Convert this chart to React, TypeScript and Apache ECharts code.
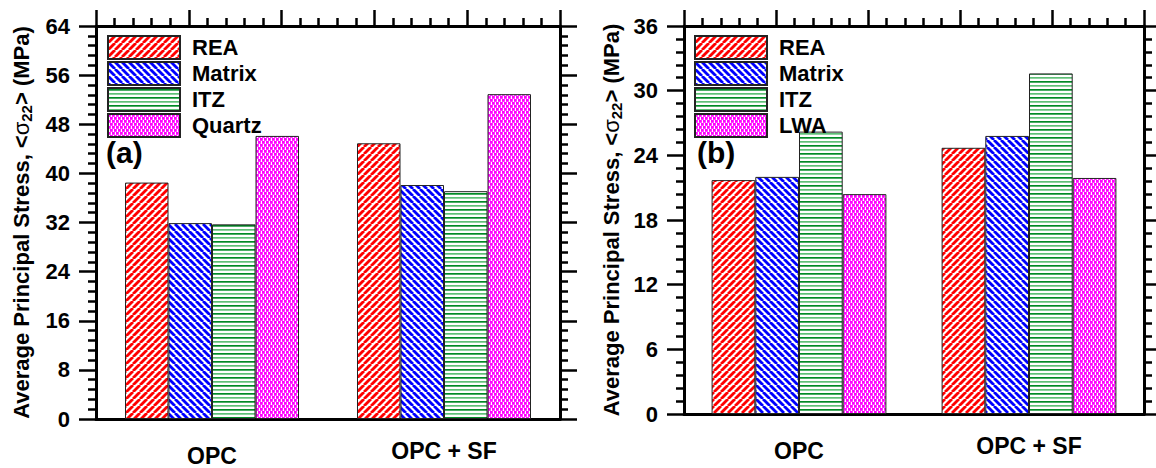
import React, { useEffect, useRef } from "react";
import * as echarts from "echarts";

const categories = ["OPC", "OPC + SF"];

const namesA = ["REA", "Matrix", "ITZ", "Quartz"];
const reaA = [38.5, 44.9];
const matrixA = [31.9, 38.1];
const itzA = [31.7, 37.1];
const quartzA = [46.1, 52.9];

const namesB = ["REA", "Matrix", "ITZ", "LWA"];
const reaB = [21.7, 24.7];
const matrixB = [22.0, 25.8];
const itzB = [26.2, 31.6];
const lwaB = [20.4, 21.9];

const yMaxA = 64;
const yStepA = 8;
const yMaxB = 36;
const yStepB = 6;

const FONT = '"Liberation Sans", Arial, sans-serif';

function stripePattern(color: string, dir: number) {
  const s = 7;
  const c = document.createElement("canvas");
  c.width = s;
  c.height = s;
  const g = c.getContext("2d")!;
  g.fillStyle = "#ffffff";
  g.fillRect(0, 0, s, s);
  g.strokeStyle = color;
  g.lineWidth = 2.8;
  for (const o of [-s, 0, s]) {
    g.beginPath();
    if (dir > 0) {
      g.moveTo(o, s);
      g.lineTo(o + s, 0);
    } else {
      g.moveTo(o, 0);
      g.lineTo(o + s, s);
    }
    g.stroke();
  }
  return { image: c as any, repeat: "repeat" };
}

function hLinePattern() {
  const c = document.createElement("canvas");
  c.width = 8;
  c.height = 8;
  const g = c.getContext("2d")!;
  g.fillStyle = "#ffffff";
  g.fillRect(0, 0, 8, 8);
  g.fillStyle = "#008a25";
  g.fillRect(0, 1, 8, 1.7);
  g.fillStyle = "#5fc077";
  g.fillRect(0, 5, 8, 1.7);
  return { image: c as any, repeat: "repeat" };
}

function dotPattern() {
  const c = document.createElement("canvas");
  c.width = 8;
  c.height = 6;
  const g = c.getContext("2d")!;
  g.fillStyle = "#ffffff";
  g.fillRect(0, 0, 8, 6);
  g.fillStyle = "#ff00ff";
  const d = 2.8;
  g.fillRect(0, 0, d, d);
  g.fillRect(4, 0, d, d);
  g.fillRect(2, 3, d, d);
  g.fillRect(6, 3, d, d);
  g.fillRect(-2, 3, d, d);
  return { image: c as any, repeat: "repeat" };
}

export default function App() {
  const ref = useRef<HTMLDivElement>(null);
  useEffect(() => {
    if (!ref.current) return;
    const chart = echarts.init(ref.current, undefined, { renderer: "svg" });
    const patterns = [stripePattern("#ff0000", 1), stripePattern("#0000ff", -1), hLinePattern(), dotPattern()];

    const grids = [
      { left: 96, top: 26, width: 464, height: 393 },
      { left: 684, top: 26, width: 460, height: 388 },
    ];

    const black = "#000000";
    const nameRich = {
      t: { fontSize: 22, fontWeight: "bold", fontFamily: FONT, color: black, lineHeight: 26 },
      g: { fontSize: 22, fontWeight: "normal", fontFamily: FONT, color: black, lineHeight: 26 },
      sub: { fontSize: 15, fontWeight: "bold", fontFamily: FONT, color: black, lineHeight: 15, verticalAlign: "bottom" },
    };
    const yName = "{t|Average Principal Stress, <}{g|σ}{sub|22}{t|> (MPa)}";

    const xCat = (gi: number) => ({
      type: "category",
      gridIndex: gi,
      data: categories,
      position: "bottom",
      axisLine: { onZero: false, lineStyle: { color: black, width: 3 } },
      axisTick: { show: false },
      axisLabel: {
        margin: 20,
        formatter: (v: string) => (v === "OPC" ? "{lo|" + v + "}" : "{hi|" + v + "}"),
        rich: {
          lo: { fontSize: 23, fontWeight: "bold", fontFamily: FONT, color: black, padding: [5, 0, 0, 0] },
          hi: { fontSize: 23, fontWeight: "bold", fontFamily: FONT, color: black },
        },
      },
      splitLine: { show: false },
    });
    const xTop = (gi: number) => ({
      type: "value",
      gridIndex: gi,
      position: "top",
      min: 0,
      max: 5,
      interval: 1,
      axisLine: { show: true, onZero: false, lineStyle: { color: black, width: 3 } },
      axisTick: { show: true, inside: false, length: 16, lineStyle: { color: black, width: 2.5 } },
      minorTick: { show: true, splitNumber: 5, length: 8, lineStyle: { color: black, width: 2.5 } },
      axisLabel: { show: false },
      splitLine: { show: false },
      minorSplitLine: { show: false },
    });
    const yLeft = (gi: number, max: number, step: number, gap: number) => ({
      type: "value",
      gridIndex: gi,
      position: "left",
      min: 0,
      max,
      interval: step,
      name: yName,
      nameLocation: "middle",
      nameGap: gap,
      nameRotate: 90,
      nameTextStyle: { rich: nameRich },
      axisLine: { show: true, onZero: false, lineStyle: { color: black, width: 3 } },
      axisTick: { show: true, inside: false, length: 17, lineStyle: { color: black, width: 2.5 } },
      minorTick: { show: true, splitNumber: 5, length: 8, lineStyle: { color: black, width: 2.5 } },
      axisLabel: { fontSize: 22, fontWeight: "bold", fontFamily: FONT, color: black, margin: 26 },
      splitLine: { show: false },
      minorSplitLine: { show: false },
    });
    const yRight = (gi: number, max: number, step: number) => ({
      type: "value",
      gridIndex: gi,
      position: "right",
      min: 0,
      max,
      interval: step,
      axisLine: { show: true, onZero: false, lineStyle: { color: black, width: 3 } },
      axisTick: { show: true, inside: false, length: 17, lineStyle: { color: black, width: 2.5 } },
      minorTick: { show: true, splitNumber: 5, length: 8, lineStyle: { color: black, width: 2.5 } },
      axisLabel: { show: false },
      splitLine: { show: false },
      minorSplitLine: { show: false },
    });

    const mkSeries = (names: string[], datas: number[][], xi: number, yi: number, catGap: string) =>
      names.map((n, i) => ({
        type: "bar",
        name: n,
        xAxisIndex: xi,
        yAxisIndex: yi,
        data: datas[i],
        barGap: "0%",
        barCategoryGap: catGap,
        itemStyle: { color: patterns[i], borderColor: "#222222", borderWidth: 1 },
      }));

    const legend = (left: number, data: string[]) => ({
      orient: "vertical",
      left,
      top: 35,
      padding: 0,
      itemWidth: 72,
      itemHeight: 23,
      itemGap: 1,
      icon: "rect",
      data,
      selectedMode: false,
      textStyle: { fontSize: 22, fontWeight: "bold", fontFamily: FONT, color: black, lineHeight: 23, padding: [0, 0, 0, 7] },
    });

    chart.setOption({
      animation: false,
      backgroundColor: "#ffffff",
      grid: grids,
      xAxis: [xCat(0), xTop(0), xCat(1), xTop(1)],
      yAxis: [yLeft(0, yMaxA, yStepA, 62), yRight(0, yMaxA, yStepA), yLeft(1, yMaxB, yStepB, 60), yRight(1, yMaxB, yStepB)],
      legend: [legend(107, namesA), legend(694, namesB)],
      series: [
        ...mkSeries(namesA, [reaA, matrixA, itzA, quartzA], 0, 0, "25%"),
        ...mkSeries(namesB, [reaB, matrixB, itzB, lwaB], 2, 2, "24%"),
      ],
      graphic: [
        { type: "text", left: 106, top: 137, style: { text: "(a)", font: `bold 30px ${FONT}`, fill: black } },
        { type: "text", left: 697, top: 137, style: { text: "(b)", font: `bold 30px ${FONT}`, fill: black } },
      ],
    } as any);
    return () => chart.dispose();
  }, []);
  return <div ref={ref} style={{ position: "fixed", left: 0, top: 0, width: 1156, height: 468 }} />;
}
